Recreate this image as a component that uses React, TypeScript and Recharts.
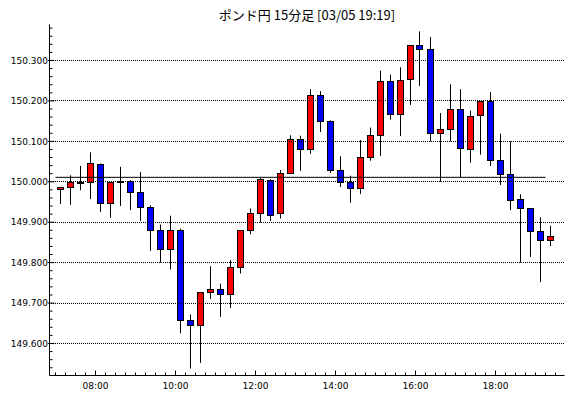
import React from 'react';
import { ComposedChart, Bar, Line, XAxis, YAxis, ReferenceLine } from 'recharts';

const title = 'ポンド円 15分足 [03/05 19:19]';

const times = [
  '07:00', '07:15', '07:30', '07:45', '08:00', '08:15', '08:30', '08:45', '09:00', '09:15',
  '09:30', '09:45', '10:00', '10:15', '10:30', '10:45', '11:00', '11:15', '11:30', '11:45',
  '12:00', '12:15', '12:30', '12:45', '13:00', '13:15', '13:30', '13:45', '14:00', '14:15',
  '14:30', '14:45', '15:00', '15:15', '15:30', '15:45', '16:00', '16:15', '16:30', '16:45',
  '17:00', '17:15', '17:30', '17:45', '18:00', '18:15', '18:30', '18:45', '19:00', '19:15',
];

const opens = [
  149.980, 149.985, 149.996, 149.998, 150.043, 149.946, 149.999, 150.000, 149.974, 149.936,
  149.880, 149.833, 149.879, 149.658, 149.645, 149.726, 149.734, 149.721, 149.788, 149.880,
  149.922, 150.003, 149.922, 150.020, 150.105, 150.080, 150.213, 150.149, 150.028, 149.998,
  149.983, 150.060, 150.115, 150.248, 150.166, 150.253, 150.337, 150.327, 150.119, 150.129,
  150.179, 150.080, 150.164, 150.199, 150.053, 150.018, 149.956, 149.934, 149.877, 149.855,
];

const highs = [
  149.987, 150.016, 150.039, 150.073, 150.045, 149.998, 150.037, 150.004, 150.024, 149.942,
  149.894, 149.916, 149.884, 149.672, 149.726, 149.791, 149.748, 149.806, 149.880, 149.934,
  150.010, 150.006, 150.029, 150.115, 150.114, 150.229, 150.224, 150.152, 150.063, 150.015,
  150.103, 150.134, 150.275, 150.265, 150.283, 150.337, 150.372, 150.358, 150.170, 150.241,
  150.229, 150.176, 150.199, 150.222, 150.119, 150.100, 149.969, 149.934, 149.912, 149.891,
];

const lows = [
  149.945, 149.943, 149.979, 149.957, 149.925, 149.911, 149.940, 149.930, 149.903, 149.829,
  149.800, 149.783, 149.625, 149.538, 149.552, 149.710, 149.666, 149.688, 149.773, 149.870,
  149.899, 149.903, 149.909, 150.020, 150.027, 150.069, 150.123, 150.022, 149.987, 149.948,
  149.970, 150.052, 150.064, 150.154, 150.113, 150.190, 150.237, 150.100, 150.000, 150.100,
  150.011, 150.047, 150.067, 150.039, 149.992, 149.930, 149.800, 149.814, 149.752, 149.841,
];

const closes = [
  149.987, 149.998, 149.999, 150.045, 149.946, 149.998, 150.000, 149.973, 149.936, 149.880,
  149.833, 149.879, 149.658, 149.645, 149.726, 149.734, 149.721, 149.788, 149.880, 149.922,
  150.006, 149.916, 150.020, 150.105, 150.080, 150.213, 150.149, 150.028, 149.998, 149.983,
  150.060, 150.115, 150.248, 150.166, 150.251, 150.337, 150.327, 150.119, 150.129, 150.179,
  150.082, 150.161, 150.199, 150.053, 150.018, 149.954, 149.934, 149.876, 149.855, 149.865,
];

const priceLabels = ['149.600', '149.700', '149.800', '149.900', '150.000', '150.100', '150.200', '150.300'];
const hourLabels = ['08:00', '10:00', '12:00', '14:00', '16:00', '18:00'];
const refPrice = 150.011;
const refStart = '07:00';
const refEnd = '19:15';

const toHours = (s: string) => {
  const [h, m] = s.split(':').map(Number);
  return h + m / 60;
};

const data = times.map((t, i) => ({
  t: toHours(t) + 0.125,
  open: opens[i],
  high: highs[i],
  low: lows[i],
  close: closes[i],
  range: [lows[i], highs[i]],
}));

const priceMajor = priceLabels.map(Number);
const hourMajor = hourLabels.map(toHours);

const xMinorTicks = Array.from({ length: 51 }, (_, i) => 7 + i * 0.25);
const yMinorTicks = Array.from({ length: 43 }, (_, i) => Math.round((149.54 + i * 0.02) * 1000) / 1000);

const isMajorX = (v: number) => hourMajor.some((h) => Math.abs(h - v) < 1e-6);
const isMajorY = (v: number) => priceMajor.some((p) => Math.abs(p - v) < 1e-6);

const FONT = 'DejaVu Sans';

const BottomTick = (props: any) => {
  const { x, y, payload } = props;
  const v = payload.value;
  const major = isMajorX(v);
  const idx = hourMajor.findIndex((h) => Math.abs(h - v) < 1e-6);
  return (
    <g>
      <line x1={x} x2={x} y1={y} y2={y - (major ? 5 : 3)} stroke="#000" strokeWidth={1} />
      {major && (
        <text x={x} y={y + 13.5} textAnchor="middle" fontFamily={FONT} fontSize={9} fill="#000">
          {hourLabels[idx]}
        </text>
      )}
    </g>
  );
};

const TopTick = (props: any) => {
  const { x, y, payload } = props;
  const major = isMajorX(payload.value);
  return <line x1={x} x2={x} y1={y} y2={y + (major ? 5 : 3)} stroke="#000" strokeWidth={1} />;
};

const LeftTick = (props: any) => {
  const { x, y, payload } = props;
  const v = payload.value;
  const major = isMajorY(v);
  const idx = priceMajor.findIndex((p) => Math.abs(p - v) < 1e-6);
  return (
    <g>
      <line x1={major ? x - 1.5 : x} x2={x + (major ? 5 : 3)} y1={y} y2={y} stroke="#000" strokeWidth={1} />
      {major && (
        <text x={x - 1.5} y={y + 3.3} textAnchor="end" fontFamily={FONT} fontSize={9} fill="#000">
          {priceLabels[idx]}
        </text>
      )}
    </g>
  );
};

const RightTick = (props: any) => {
  const { x, y, payload } = props;
  const major = isMajorY(payload.value);
  return <line x1={x} x2={x - (major ? 5 : 3)} y1={y} y2={y} stroke="#000" strokeWidth={1} />;
};

const Candle = (props: any) => {
  const { x, y, width } = props;
  let { height } = props;
  const p = props.payload ?? props;
  const { open, close, high, low } = p;
  let top = y;
  if (height < 0) {
    top = y + height;
    height = -height;
  }
  const span = high - low || 1;
  const py = (v: number) => top + ((high - v) / span) * height;
  const cx = Math.round(x + width / 2 - 0.5) + 0.5;
  const up = close >= open;
  let bTop = Math.round(py(Math.max(open, close)) - 0.5) + 0.5;
  let bBot = Math.round(py(Math.min(open, close)) - 0.5) + 0.5;
  if (bBot - bTop < 1) bBot = bTop + 1;
  return (
    <g>
      <line x1={cx} x2={cx} y1={py(high)} y2={py(low)} stroke="#000" strokeWidth={1} />
      <rect
        x={cx - 3}
        y={bTop}
        width={6}
        height={bBot - bTop}
        fill={up ? '#ff0000' : '#0000ff'}
        stroke="#000"
        strokeWidth={1}
      />
    </g>
  );
};

const X_DOMAIN: [number, number] = [6.85, 19.725];
const Y_DOMAIN: [number, number] = [149.5208, 150.389];

export default function App() {
  return (
    <div style={{ position: 'absolute', left: 0, top: 0, width: 570, height: 398, background: '#fff', overflow: 'hidden' }}>
      <div
        style={{
          position: 'absolute',
          left: 157,
          top: 7,
          width: 300,
          textAlign: 'center',
          fontFamily: '"Noto Sans CJK JP", sans-serif',
          fontSize: 13,
          lineHeight: '15px',
          color: '#000',
          whiteSpace: 'nowrap',
        }}
      >
        {title}
      </div>
      <ComposedChart
        width={570}
        height={398}
        data={data}
        margin={{ top: 24.5, right: 5.5, bottom: 0, left: 0 }}
      >
        <XAxis
          xAxisId="bottom"
          dataKey="t"
          type="number"
          domain={X_DOMAIN}
          allowDataOverflow
          ticks={xMinorTicks}
          interval={0}
          tickSize={0}
          tickMargin={0}
          tick={<BottomTick />}
          tickLine={false}
          axisLine={{ stroke: '#000' }}
          height={22.5}
          orientation="bottom"
        />
        <XAxis
          xAxisId="top"
          dataKey="t"
          type="number"
          domain={X_DOMAIN}
          allowDataOverflow
          ticks={xMinorTicks}
          interval={0}
          tickSize={0}
          tickMargin={0}
          tick={<TopTick />}
          tickLine={false}
          axisLine={{ stroke: '#000' }}
          height={0}
          orientation="top"
        />
        <YAxis
          yAxisId="left"
          type="number"
          domain={Y_DOMAIN}
          allowDataOverflow
          ticks={yMinorTicks}
          interval={0}
          tickSize={0}
          tickMargin={0}
          tick={<LeftTick />}
          tickLine={false}
          axisLine={{ stroke: '#000' }}
          width={49.5}
          orientation="left"
        />
        <YAxis
          yAxisId="right"
          type="number"
          domain={Y_DOMAIN}
          allowDataOverflow
          ticks={yMinorTicks}
          interval={0}
          tickSize={0}
          tickMargin={0}
          tick={<RightTick />}
          tickLine={false}
          axisLine={{ stroke: '#000' }}
          width={0}
          orientation="right"
        />
        {priceMajor.map((p) => (
          <ReferenceLine
            key={p}
            xAxisId="bottom"
            yAxisId="left"
            y={p}
            stroke="#000"
            strokeDasharray="1 1"
            strokeDashoffset={0.5}
            strokeWidth={1}
            shapeRendering="crispEdges"
          />
        ))}
        <ReferenceLine
          xAxisId="bottom"
          yAxisId="left"
          segment={[
            { x: toHours(refStart), y: refPrice },
            { x: toHours(refEnd), y: refPrice },
          ]}
          stroke="#000"
          strokeWidth={1}
        />
        <Bar
          xAxisId="bottom"
          yAxisId="left"
          dataKey="range"
          barSize={7}
          shape={<Candle />}
          isAnimationActive={false}
        />
        <Line
          xAxisId="top"
          yAxisId="right"
          dataKey="close"
          stroke="none"
          dot={false}
          activeDot={false}
          isAnimationActive={false}
        />
      </ComposedChart>
    </div>
  );
}
